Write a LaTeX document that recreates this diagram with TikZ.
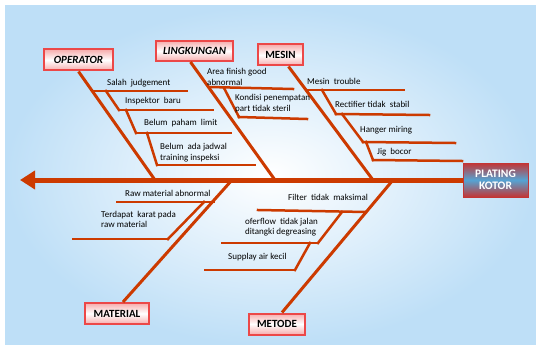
\documentclass[tikz,border=0pt]{standalone}
\usepackage{fontspec}
\setmainfont{Carlito}
\usepackage{tikz}
\usetikzlibrary{arrows.meta,positioning}

\definecolor{fishred}{RGB}{204,58,0}
\definecolor{skyblue}{RGB}{190,223,247}
\definecolor{boxred}{RGB}{236,72,72}
\definecolor{headblue}{RGB}{84,164,212}
\definecolor{headred}{RGB}{196,52,52}

\tikzset{
  spine/.style={draw=fishred, line width=5pt},
  bone/.style={draw=fishred, line width=3pt},
  twig/.style={draw=fishred, line width=2.5pt, line cap=rect},
  cause/.style={draw=boxred, line width=2pt, top color=boxred!45, bottom color=boxred!45,
    middle color=white, font=\fontsize{11}{12}\selectfont\bfseries, minimum height=21pt, inner xsep=3pt},
  effect/.style={draw=headred, line width=1pt, top color=headred, bottom color=headred,
    middle color=headblue, text=white, align=center, font=\fontsize{11.5}{12}\selectfont\bfseries},
  note/.style={font=\fontsize{9}{10.5}\selectfont, anchor=west, align=left, inner sep=0pt},
}

\begin{document}
\begin{tikzpicture}[x=1pt,y=-1pt]
  \useasboundingbox (0,0) rectangle (536,345);
  \shade[inner color=white, outer color=skyblue] (5,6) rectangle (536,345);

  % head and spine
  \node[effect, minimum width=65pt, minimum height=34pt] (plating) at (495.5,180) {PLATING\\KOTOR};
  \coordinate (tail) at (20,180);
  \draw[spine, -{Triangle[length=15pt,width=18pt]}] (plating.west) -- (tail);

  % main causes
  \node[cause, font=\fontsize{11}{12}\selectfont\bfseries\itshape, minimum width=69pt] (opr) at (78.5,60) {OPERATOR};
  \node[cause, font=\fontsize{11}{12}\selectfont\bfseries\itshape, minimum width=77pt, minimum height=20pt] (lkg) at (194.5,51) {LINGKUNGAN};
  \node[cause, minimum width=45pt] (msn) at (280.5,55) {MESIN};
  \node[cause, minimum width=64pt] (mat) at (117,313.5) {MATERIAL};
  \node[cause, minimum width=56pt] (mtd) at (277,324) {METODE};

  \coordinate (opr-end) at (155,180);
  \coordinate (lkg-end) at (275,180);
  \coordinate (msn-end) at (373,180);
  \coordinate (mat-end) at (232,180);
  \coordinate (mtd-end) at (393,180);

  \path[bone]
  (opr.south) edge (opr-end)
  ([xshift=-4pt]lkg.south) edge (lkg-end)
  ([xshift=8pt]msn.south) edge (msn-end)
  ([xshift=6pt]mat.north) edge (mat-end)
  ([xshift=5pt]mtd.north) edge (mtd-end);

  % operator
  \coordinate (o1) at (92,91);   \coordinate (o1e) at (187,91);  \coordinate (o1d) at (106,91);
  \coordinate (o2) at (119,110); \coordinate (o2e) at (213,110); \coordinate (o2d) at (126,110);
  \coordinate (o3) at (136,133); \coordinate (o3e) at (231,133); \coordinate (o3d) at (147,133);
  \coordinate (o4) at (157,165); \coordinate (o4e) at (255,165);
  \path[twig]
  (o1) edge (o1e) (o1d) edge (o2)
  (o2) edge (o2e) (o2d) edge (o3)
  (o3) edge (o3e) (o3d) edge (o4)
  (o4) edge (o4e);
  \node[note] (t-o1) at (107,83) {Salah\ \ judgement};
  \node[note] (t-o2) at (125,101) {Inspektor\ \ baru};
  \node[note] (t-o3) at (144,123) {Belum\ \ paham\ \ limit};
  \node[note] (t-o4) at (160,152.5) {Belum\ \ ada jadwal\\training inspeksi};

  % lingkungan
  \coordinate (l1) at (209,87);  \coordinate (l1e) at (293,89); \coordinate (l1d) at (224,88);
  \coordinate (l2) at (239,117); \coordinate (l2e) at (307,119);
  \path[twig]
  (l1) edge (l1e) (l1d) edge (l2)
  (l2) edge (l2e);
  \node[note] (t-l1) at (207,77) {Area finish good\\abnormal};
  \node[note] (t-l2) at (235,103.5) {Kondisi penempatan\\part tidak steril};

  % mesin
  \coordinate (m1) at (307,90);  \coordinate (m1e) at (404,90);  \coordinate (m1d) at (322,90);
  \coordinate (m2) at (336,114); \coordinate (m2e) at (429,115); \coordinate (m2d) at (342,114);
  \coordinate (m3) at (363,142); \coordinate (m3e) at (455,143); \coordinate (m3d) at (366,142);
  \coordinate (m4) at (373,160); \coordinate (m4e) at (462,161);
  \path[twig]
  (m1) edge (m1e) (m1d) edge (m2)
  (m2) edge (m2e) (m2d) edge (m3)
  (m3) edge (m3e) (m3d) edge (m4)
  (m4) edge (m4e);
  \node[note] (t-m1) at (307,81) {Mesin\ \ trouble};
  \node[note] (t-m2) at (335,104) {Rectifier tidak\ \ stabil};
  \node[note] (t-m3) at (360,130) {Hanger miring};
  \node[note] (t-m4) at (377,152) {Jig\ \ bocor};

  % material
  \coordinate (ma1) at (117,202); \coordinate (ma1e) at (214,202); \coordinate (ma1d) at (204,202);
  \coordinate (ma2) at (73,239);  \coordinate (ma2e) at (168,239);
  \path[twig]
  (ma1) edge (ma1e) (ma1d) edge (ma2e)
  (ma2) edge (ma2e);
  \node[note] (t-ma1) at (125,193) {Raw material abnormal};
  \node[note] (t-ma2) at (101,219.5) {Terdapat\ \ karat pada\\raw material};

  % metode
  \coordinate (me1) at (258,210); \coordinate (me1e) at (366,212); \coordinate (me1d) at (342,212);
  \coordinate (me2) at (222,243); \coordinate (me2e) at (318,243); \coordinate (me2d) at (310,243);
  \coordinate (me3) at (205,270); \coordinate (me3e) at (295,270);
  \path[twig]
  (me1) edge (me1e) (me1d) edge (me2e)
  (me2) edge (me2e) (me2d) edge (me3e)
  (me3) edge (me3e);
  \node[note] (t-me1) at (288,197) {Filter\ \ tidak\ \ maksimal};
  \node[note] (t-me2) at (245,227) {oferflow\ \ tidak jalan\\ditangki degreasing};
  \node[note] (t-me3) at (228,257) {Supplay air kecil};
\end{tikzpicture}
\end{document}
